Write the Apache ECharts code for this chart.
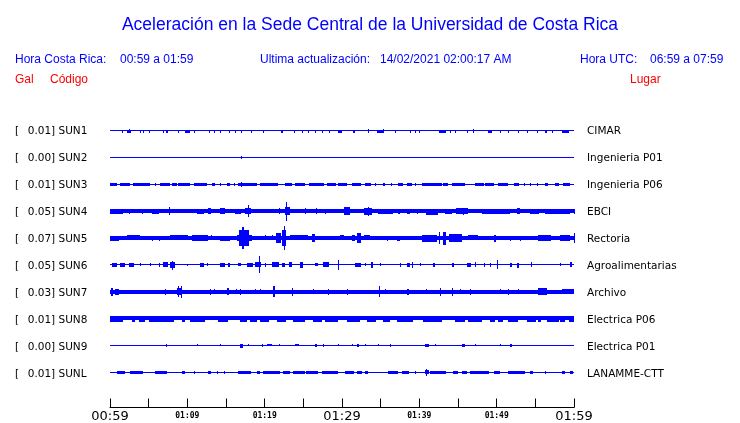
<!DOCTYPE html>
<html><head><meta charset="utf-8">
<script src="https://cdn.jsdelivr.net/npm/echarts@6/dist/echarts.min.js"></script>
<style>html,body{margin:0;padding:0;background:#fff}#c{width:740px;height:423px}</style>
</head><body><div id="c"></div>
<script>
// ---- DATA ----
const titleText = 'Aceleración en la Sede Central de la Universidad de Costa Rica';
const gal = ['0.01','0.00','0.01','0.05','0.07','0.05','0.03','0.01','0.00','0.01'];
const codes = ['SUN1','SUN2','SUN3','SUN4','SUN5','SUN6','SUN7','SUN8','SUN9','SUNL'];
const places = ['CIMAR','Ingenieria P01','Ingenieria P06','EBCI','Rectoria','Agroalimentarias','Archivo','Electrica P06','Electrica P01','LANAMME-CTT'];
const tickLabels = ['00:59','01:09','01:19','01:29','01:39','01:49','01:59']; // every 10 min
// background noise half-amplitude of each trace
const baseNoise = [0.5,0.5,0.5,2.0,2.0,0.5,2.0,2.2,0.5,0.5];
// bursts: [start minute, end minute, half amplitude]
const sun1 = [[1.5,1.5,1.3],[2.2,2.7,1.3],[2.5,2.5,2],[3.9,3.9,1.3],[4.3,4.3,1.3],[5.0,5.0,1.3],[6.8,6.8,1.3],[7.3,7.6,1.3],[8.8,8.8,1.3],[9.7,10.3,1.3],[10.8,10.8,1.3],[12.8,12.8,1.3],[13.4,13.4,1.3],[14.2,14.2,1.3],[15.4,15.4,1.3],[16.2,16.2,1.3],[16.9,16.9,1.3],[18.2,18.2,1.3],[19.8,19.8,1.3],[22.1,22.4,1.3],[23.8,23.8,1.3],[24.8,24.8,1.3],[25.6,25.6,1.3],[26.5,26.5,1.3],[27.4,27.4,1.3],[28.3,28.3,1.3],[29.5,30.0,1.3],[31.4,31.7,1.3],[33.4,33.4,1.8],[34.5,35.3,1.3],[35.3,35.3,2.2],[36.8,36.8,1.3],[38.8,38.8,1.3],[39.4,39.4,1.3],[40.0,40.0,1.3],[42.5,43.4,1.3],[44.0,44.0,1.3],[44.6,44.6,1.3],[46.1,46.1,1.3],[47.0,47.0,2.2],[48.9,49.4,1.3],[50.4,50.4,1.3],[51.5,51.5,1.3],[52.8,52.8,1.3],[53.9,53.9,1.3],[55.2,55.2,1.3],[56.3,56.5,1.3],[57.1,57.1,1.3],[58.4,59.3,1.3]];
const sun2 = [[17.0,17.0,1.5]];
const sun3 = [[0,0.9,1.3],[1.3,2.6,1.3],[3.0,5.2,1.3],[5.8,5.8,1.3],[6.5,7.8,1.3],[8.0,8.6,1.3],[8.8,10.3,1.3],[10.8,12.5,1.3],[13.2,13.6,1.3],[14.2,14.2,1.3],[15.1,15.5,1.3],[16.0,16.0,1.3],[16.5,19.0,1.3],[17.0,17.0,2.5],[19.4,21.7,1.3],[22.6,23.5,1.3],[23.9,25.2,1.3],[25.7,27.6,1.3],[28.0,29.1,1.3],[29.5,30.6,1.3],[31.3,32.5,1.3],[33.0,33.8,1.3],[34.3,34.3,1.3],[35.3,35.6,1.3],[36.4,36.4,1.3],[37.3,37.9,1.3],[38.4,39.0,1.3],[39.4,39.4,1.3],[40.3,42.9,1.3],[43.1,43.8,1.3],[44.2,45.9,1.3],[47.2,48.3,1.3],[48.5,49.6,1.3],[50.2,51.5,1.3],[52.2,52.8,1.3],[53.5,53.5,1.3],[54.3,54.3,1.3],[55.2,55.2,1.3],[56.3,56.7,1.3],[57.5,58.0,1.3],[58.6,59.5,1.3]];
const sun4 = [[0,1.7,2.5],[2.4,2.4,2.7],[4.1,4.1,2.5],[5.4,6.3,2.5],[7.6,7.6,4],[11.2,12.1,2.7],[12.7,13.1,3],[14.2,14.9,3],[16.2,17.0,2.7],[17.5,18.3,3],[17.8,17.8,6],[21.8,21.8,3],[22.6,23.3,4],[22.8,22.8,9.7],[25.2,25.2,3],[26.7,26.7,3],[27.8,27.8,2.7],[30.2,31.0,4],[32.8,33.8,3.5],[33.4,33.4,4.5],[34.7,36.6,2.5],[37.3,37.6,2.7],[38.4,38.8,2.7],[39.7,39.7,2.7],[40.9,42.5,2.8],[43.3,44.2,2.7],[44.8,46.3,3],[45.7,45.7,3.7],[48.1,51.7,2.5],[52.6,53.0,3.2],[54.3,55.4,2.7],[56.3,59.5,2.5],[60,60,2.7]];
const sun5 = [[0,1.1,2.5],[2.2,3.9,2.7],[5.4,5.4,2.5],[6.3,6.3,2.5],[7.8,10.1,2.7],[10.6,12.7,3],[13.1,13.1,2.7],[14.2,15.5,2.5],[16.4,18.3,3],[16.7,18.0,8],[17.1,17.4,11],[20.0,20.0,2.7],[20.9,20.9,2.7],[21.5,22.2,5],[22.3,22.8,8],[22.5,22.5,12],[23.3,25.6,2.7],[26.1,26.5,4],[29.7,30.2,2.7],[31.3,31.7,3],[32.0,32.5,5],[32.8,33.6,2.7],[35.8,35.8,2.5],[37.1,37.5,2.5],[40.3,42.2,3.5],[42.6,42.6,6],[43.1,43.5,6.5],[43.8,45.5,4],[46.3,47.6,2.7],[49.6,49.9,3.5],[51.7,51.7,2.5],[53.0,53.0,2.5],[55.4,57.1,3],[58.2,59.5,3],[60,60,5]];
const sun6 = [[0.2,0.9,2],[1.3,1.9,2],[2.4,3.0,2],[3.9,3.9,1.7],[5.2,5.2,1.7],[6.3,6.3,2],[6.9,7.5,2.5],[7.8,8.4,3],[8.0,8.0,4.3],[9.9,9.9,1],[11.6,12.1,2],[12.6,12.6,1.7],[14.2,14.9,2],[15.3,15.6,2],[16.6,17.0,1.7],[17.7,18.5,2],[18.8,19.6,2.5],[19.3,19.3,8.8],[20.0,20.0,2],[20.9,21.8,2.5],[22.2,22.6,2],[23.1,23.5,2.5],[24.6,25.0,3],[26.5,26.9,1.7],[27.6,28.4,2.5],[29.5,29.5,5],[31.7,32.5,2],[33.0,33.0,1.7],[33.8,34.1,3],[34.9,34.9,1.7],[37.5,37.5,2],[38.4,38.8,2],[39.0,39.0,3],[40.1,40.1,1.7],[41.8,42.0,2],[44.2,44.4,2],[46.1,46.6,2],[47.2,47.2,2.5],[48.3,48.3,2],[49.1,49.1,2],[50.0,50.0,4.5],[51.7,51.9,2],[52.6,52.8,2.3],[54.4,54.4,2.5],[58.2,58.2,1.5],[59.5,59.7,2.5]];
const sun7 = [[0.1,0.3,4.2],[0.6,1.1,3],[7.1,7.1,3],[8.6,9.3,3.5],[8.8,8.8,5.5],[9.2,9.2,6],[12.9,12.9,3],[13.4,13.4,2.7],[15.1,15.4,3.5],[16.3,16.3,2.7],[16.8,16.8,3],[18.8,18.8,2.5],[19.4,19.4,2.5],[21.1,21.3,5.3],[23.5,23.5,4],[26.3,26.3,2.5],[28.2,28.2,3],[30.7,30.7,3],[34.8,34.8,5.5],[35.6,35.6,2.5],[38.4,38.6,3],[40.9,40.9,2.5],[42.7,42.7,4],[44.2,44.2,4],[45.3,45.3,2.5],[46.6,46.6,3],[50.4,50.4,2.5],[51.5,51.5,3],[52.8,52.8,2.5],[55.4,56.5,3.5],[58.4,59.9,2.5]];
const sun8 = [[0,1.7,2.8],[2.8,3.2,2.8],[3.7,4.5,2.8],[5.0,8.2,2.8],[9.3,9.7,2.8],[10.3,12.3,2.8],[14.0,15.3,2.8],[16.8,17.7,2.8],[18.1,19.0,2.8],[19.4,20.5,2.8],[21.6,22.8,2.8],[23.7,25.2,2.8],[26.3,27.4,2.8],[27.8,29.5,2.8],[30.6,32.3,2.8],[33.2,34.3,2.8],[35.3,36.2,2.8],[37.1,39.2,2.8],[40.5,42.9,2.8],[44.6,45.9,2.8],[46.3,48.1,2.8],[49.1,49.8,2.8],[50.2,50.9,2.8],[51.5,52.8,2.8],[53.9,55.0,2.8],[55.4,55.8,2.8],[56.5,58.0,2.8],[58.2,58.8,2.8],[59.3,59.9,2.8]];
const sun9 = [[7.3,7.3,1.3],[11.2,11.2,1],[14.2,14.2,1],[16.8,17.2,1.8],[17.9,17.9,1],[19.6,19.6,1.3],[20.3,20.9,1.2],[21.8,21.8,1],[23.9,24.4,1],[26.5,26.7,1.7],[27.6,27.6,1.3],[29.5,29.5,1],[31.3,31.3,1],[31.9,32.1,1.3],[33.0,33.0,1],[34.7,34.7,1],[36.2,36.2,1.5],[40.7,41.2,1.3],[42.0,42.0,1],[45.5,45.9,1.3],[47.2,47.2,1],[50.4,50.4,1],[51.7,51.9,1.7]];
const sunL = [[0.9,1.9,1.5],[2.6,4.3,1.5],[5.8,7.3,1.5],[9.3,9.7,1.5],[10.8,10.8,1.5],[12.7,13.1,1.5],[13.8,13.8,1.5],[14.7,14.7,1.5],[16.6,18.3,1.5],[19.0,19.4,1.5],[19.8,22.0,1.5],[22.4,23.3,1.5],[23.7,25.2,1.5],[25.4,26.9,1.5],[27.4,29.5,1.5],[30.4,31.5,1.5],[31.9,32.5,1.5],[33.0,33.4,1.5],[36.0,37.3,1.5],[37.7,38.6,1.5],[39.4,39.4,1.5],[40.7,41.2,1.8],[40.9,40.9,3.5],[41.4,43.5,1.5],[44.4,45.0,1.5],[45.5,46.1,1.5],[46.6,49.1,1.5],[49.6,50.4,1.5],[51.5,53.7,1.5],[54.3,54.7,1.5],[56.3,56.3,1.5],[58.4,58.8,1.5],[59.5,59.9,1.5]];
const bursts = [sun1,sun2,sun3,sun4,sun5,sun6,sun7,sun8,sun9,sunL];

// ---- LAYOUT ----
const BLUE = '#0000ff', RED = '#ff0000';
const ROW = 27, GTOP = 117.5, GH = 270;
const data = [];
bursts.forEach((list, i) => {
  data.push([i, 0, 60, baseNoise[i]]);
  list.forEach(b => data.push([i, b[0], b[1], b[2]]));
});
function renderItem(params, api) {
  const row = api.value(0), t0 = api.value(1), t1 = api.value(2), a = api.value(3);
  const yc = ROW / 2 + ROW * row;
  const p0 = api.coord([t0, yc - a]);
  const p1 = api.coord([t1, yc + a]);
  const x = Math.round(Math.min(p0[0], p1[0]));
  const w = Math.max(1, Math.round(Math.abs(p1[0] - p0[0])));
  const y = Math.round(Math.min(p0[1], p1[1]));
  const h = Math.max(1, Math.round(Math.abs(p1[1] - p0[1])));
  return {type: 'rect', shape: {x: x, y: y, width: w, height: h}, style: {fill: BLUE}};
}
const chart = echarts.init(document.getElementById('c'), null, {renderer: 'canvas'});
const hdr = {fontFamily: 'Liberation Sans', fontSize: 12, fill: BLUE};
chart.setOption({
  animation: false,
  title: {text: titleText, left: 'center', top: 11,
    textStyle: {fontFamily: 'Liberation Sans', fontSize: 17.5, fontWeight: 'normal', color: BLUE}},
  grid: [
    {left: 110, width: 464, top: GTOP, height: GH},
    {left: 110, width: 464, top: GTOP, height: GH}
  ],
  xAxis: [
    {type: 'value', gridIndex: 0, min: 0, max: 60, interval: 5, position: 'bottom', offset: 409.5 - (GTOP + GH),
      axisLine: {show: true, onZero: false, lineStyle: {color: '#000', width: 1}},
      axisTick: {show: true, inside: true, length: 9, lineStyle: {color: '#000'}},
      splitLine: {show: false},
      axisLabel: {show: true, margin: 1, showMinLabel: true, showMaxLabel: true,
        formatter: v => {
          if (v % 10 !== 0) return '';
          const s = tickLabels[v / 10];
          return v % 30 === 0 ? '{big|' + s + '}' : '{small|' + s + '}';
        },
        rich: {
          big: {fontFamily: 'DejaVu Sans', fontSize: 13, color: '#000', lineHeight: 16},
          small: {fontFamily: 'DejaVu Sans Mono', fontSize: 8, fontWeight: 'bold', color: '#000', lineHeight: 14}
        }}},
    {type: 'value', gridIndex: 1, min: 0, max: 60, show: false}
  ],
  yAxis: [
    {type: 'value', gridIndex: 0, min: 0, max: GH, inverse: true, show: false},
    {type: 'category', gridIndex: 1, position: 'left', inverse: true, data: codes.map((c, i) => i),
      axisLine: {show: false}, axisTick: {show: false},
      axisLabel: {align: 'left', margin: 95, fontFamily: 'DejaVu Sans', fontSize: 10.5, color: '#000',
        formatter: (v, i) => '{br|[}' + gal[i] + '] ' + codes[i],
        rich: {br: {width: 12.7, fontFamily: 'DejaVu Sans', fontSize: 10.5, color: '#000'}}}},
    {type: 'category', gridIndex: 1, position: 'right', inverse: true, data: places,
      axisLine: {show: false}, axisTick: {show: false},
      axisLabel: {align: 'left', margin: 13, fontFamily: 'DejaVu Sans', fontSize: 10.5, color: '#000'}}
  ],
  graphic: [
    {type: 'text', left: 15, top: 54, style: Object.assign({text: 'Hora Costa Rica:'}, hdr)},
    {type: 'text', left: 120, top: 54, style: Object.assign({text: '00:59 a 01:59'}, hdr)},
    {type: 'text', left: 260, top: 54, style: Object.assign({text: 'Ultima actualización:'}, hdr)},
    {type: 'text', left: 380, top: 54, style: Object.assign({text: '14/02/2021 02:00:17 AM'}, hdr)},
    {type: 'text', left: 580, top: 54, style: Object.assign({text: 'Hora UTC:'}, hdr)},
    {type: 'text', left: 650, top: 54, style: Object.assign({text: '06:59 a 07:59'}, hdr)},
    {type: 'text', left: 15, top: 74, style: Object.assign({}, hdr, {text: 'Gal', fill: RED})},
    {type: 'text', left: 50, top: 74, style: Object.assign({}, hdr, {text: 'Código', fill: RED})},
    {type: 'text', left: 630, top: 74, style: Object.assign({}, hdr, {text: 'Lugar', fill: RED})}
  ],
  series: [{type: 'custom', xAxisIndex: 0, yAxisIndex: 0, renderItem: renderItem,
    encode: {x: [1, 2], y: 3}, data: data, clip: false}]
});
</script></body></html>
